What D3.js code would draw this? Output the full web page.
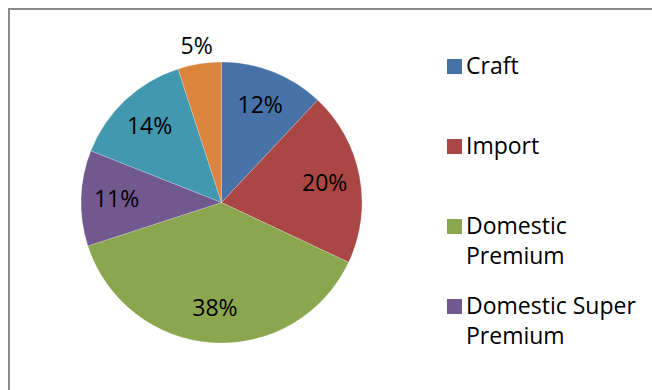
<!DOCTYPE html>
<html>
<head>
<meta charset="utf-8">
<script src="https://cdn.jsdelivr.net/npm/d3@7/dist/d3.min.js"></script>
<style>
  html, body { margin: 0; padding: 0; background: #fff; }
  svg { display: block; }
  text { font-family: "Open Sans", "Noto Sans", sans-serif; fill: #000; }
</style>
</head>
<body>
<svg id="chart" width="652" height="390"></svg>
<script>
const categories = ["Craft", "Import", "Domestic Premium", "Domestic Super Premium", "Domestic Light", "Other"];
const values = [12, 20, 38, 11, 14, 5];
const colors = ["#4672A8", "#AA4643", "#8AA64F", "#71588F", "#4198AF", "#DB843D"];
const legendLines = [["Craft"], ["Import"], ["Domestic", "Premium"], ["Domestic Super", "Premium"]];
const legendCount = 4;

const svg = d3.select("#chart");
const W = 652, H = 390;

// chart frame (left/top edges visible, right/bottom extend past the view)
svg.append("path")
  .attr("d", `M9,${H + 5} L9,9 L${W + 5},9`)
  .attr("fill", "none")
  .attr("stroke", "#8a8a8a")
  .attr("stroke-width", 2);

const cx = 221.5, cy = 202.5, R = 140.5;
const data = categories.map((c, i) => ({ name: c, value: values[i], color: colors[i] }));
const total = d3.sum(values);

const pie = d3.pie().value(d => d.value).sort(null).startAngle(0).endAngle(2 * Math.PI);
const arcs = pie(data);
const arc = d3.arc().innerRadius(0).outerRadius(R);
const labelArc = d3.arc().innerRadius(105).outerRadius(105);
const outerLabelArc = d3.arc().innerRadius(159).outerRadius(159);

const g = svg.append("g").attr("transform", `translate(${cx},${cy})`);
g.selectAll("path.slice").data(arcs).enter().append("path")
  .attr("class", "slice")
  .attr("d", arc)
  .attr("fill", d => d.data.color)
  .attr("stroke", "rgba(255,255,255,0.35)")
  .attr("stroke-width", 0.6);

g.selectAll("text.lbl").data(arcs).enter().append("text")
  .attr("class", "lbl")
  .attr("transform", d => {
    const p = (d.data.value / total < 0.08 ? outerLabelArc : labelArc).centroid(d);
    return `translate(${p[0]},${p[1]})`;
  })
  .attr("text-anchor", "middle")
  .attr("dy", "0.36em")
  .style("font-size", "23px")
  .text(d => Math.round(d.data.value / total * 100) + "%");

// legend
const legY = d3.scalePoint().domain(d3.range(legendCount)).range([66.5, 306.5]);
const lg = svg.append("g");
d3.range(legendCount).forEach(i => {
  const y = legY(i);
  lg.append("rect")
    .attr("x", 447).attr("y", y - 7.5)
    .attr("width", 15).attr("height", 15)
    .attr("fill", colors[i]);
  const t = lg.append("text")
    .attr("x", 466).attr("y", y + 7.8)
    .style("font-size", "23px");
  legendLines[i].forEach((ln, j) => {
    t.append("tspan").attr("x", 466).attr("dy", j === 0 ? 0 : 30).text(ln);
  });
});
</script>
</body>
</html>
